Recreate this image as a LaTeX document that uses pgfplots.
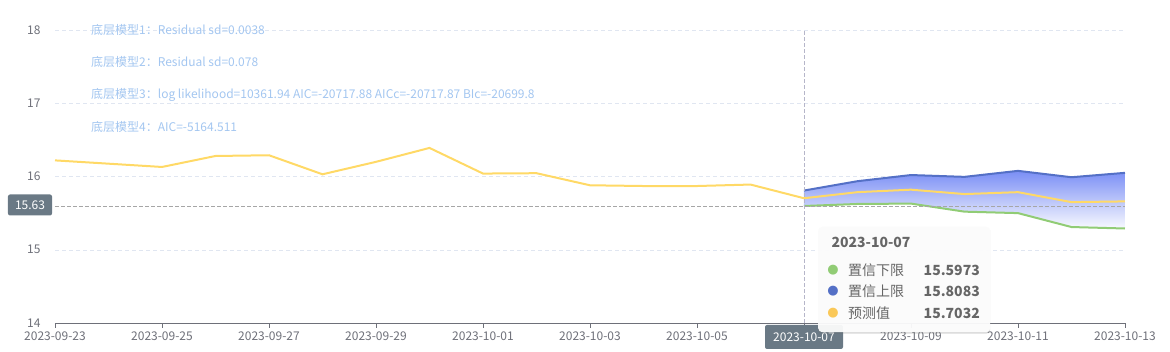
\documentclass[border=0pt]{standalone}
\usepackage{pgfplots}
\pgfplotsset{compat=1.18}
\usetikzlibrary{shadows}
\usepackage{fontspec}
\setmainfont{Noto Sans CJK SC}
\newfontfamily\dejavu{DejaVu Sans}
\definecolor{axisgray}{HTML}{6E7079}
\definecolor{gridc}{HTML}{E0E6F1}
\definecolor{yel}{HTML}{FFD966}
\definecolor{dotyel}{HTML}{FAC858}
\definecolor{blu}{HTML}{5470C6}
\definecolor{grn}{HTML}{91CC75}
\definecolor{fillblue}{HTML}{7A8EF5}
\definecolor{annot}{HTML}{A3C6F0}
\definecolor{boxc}{HTML}{6A7985}
\definecolor{txt}{HTML}{666666}
\begin{document}
\begin{tikzpicture}
\useasboundingbox (-55pt,-29pt) rectangle (1115pt,323pt);
\begin{axis}[
  at={(0,0)}, anchor=south west,
  scale only axis, width=1070pt, height=293pt,
  xmin=0, xmax=20, ymin=14, ymax=18,
  xtick={0,2,...,20},
  xticklabels={2023-09-23,2023-09-25,2023-09-27,2023-09-29,2023-10-01,2023-10-03,2023-10-05,,2023-10-09,2023-10-11,2023-10-13},
  ytick={14,15,16,17,18},
  axis x line*=bottom, axis y line*=left,
  x axis line style={draw=axisgray, -},
  y axis line style={draw=none},
  xtick style={draw=axisgray},
  ytick style={draw=none},
  tick align=outside, major tick length=5pt,
  ymajorgrids, grid style={gridc, dashed, dash pattern=on 4pt off 3pt},
  tick label style={font=\fontsize{12}{14}\selectfont, text=axisgray},
  yticklabel style={xshift=-6pt},
  /pgf/number format/assume math mode=true,
  clip=false,
]
\addplot[draw=none, top color=fillblue, bottom color=white!95!fillblue] coordinates {
 (14,15.8083) (15,15.936) (16,16.02) (17,15.995) (18,16.077) (19,15.99) (20,16.05)
 (20,15.29) (19,15.31) (18,15.50) (17,15.52) (16,15.63) (15,15.625) (14,15.5973)} -- cycle;
\addplot[blu, line width=2pt] coordinates {
 (14,15.8083) (15,15.936) (16,16.02) (17,15.995) (18,16.077) (19,15.99) (20,16.05)};
\addplot[grn, line width=2pt] coordinates {
 (14,15.5973) (15,15.625) (16,15.63) (17,15.52) (18,15.50) (19,15.31) (20,15.29)};
\addplot[yel, line width=2pt] coordinates {
 (0,16.22) (1,16.175) (2,16.13) (3,16.28) (4,16.29) (5,16.03) (6,16.20) (7,16.39)
 (8,16.04) (9,16.045) (10,15.88) (11,15.87) (12,15.87) (13,15.89) (14,15.7032)};
\addplot[yel, line width=2pt] coordinates {
 (14,15.7032) (15,15.786) (16,15.82) (17,15.76) (18,15.786) (19,15.65) (20,15.66)};
\draw[gray!70, dashed, dash pattern=on 4pt off 2pt] (axis cs:0,15.6) -- (axis cs:20,15.6);
\draw[blue!15!gray!50, dashed, dash pattern=on 4pt off 2pt] (axis cs:14,14) -- (axis cs:14,18);
\end{axis}
% annotations
\begin{scope}[every node/.style={anchor=west, text=annot, font=\fontsize{12}{14}\selectfont, inner sep=0pt}]
\node at (36pt,293pt) {底层模型1：Residual sd=0.0038};
\node at (36pt,261pt) {底层模型2：Residual sd=0.078};
\node at (36pt,228pt) {底层模型3：log likelihood=10361.94 AIC=-20717.88 AICc=-20717.87 BIc=-20699.8};
\node at (36pt,196pt) {底层模型4：AIC=-5164.511};
\end{scope}
% y pointer label
\node[fill=boxc, text=white, rounded corners=2pt, font=\fontsize{12}{14}\selectfont, minimum width=44pt, minimum height=21pt, inner sep=1pt] at (-25pt,118pt) {15.63};
% x pointer label
\node[fill=boxc, text=white, rounded corners=2pt, font=\fontsize{12}{14}\selectfont, minimum width=78pt, minimum height=24pt, inner sep=1pt] at (749pt,-14pt) {2023-10-07};
% tooltip
\node[fill=white, fill opacity=0.93, text opacity=1, rounded corners=4pt, drop shadow={opacity=0.25, shadow xshift=0pt, shadow yshift=-1.5pt, fill=black!60}, anchor=north west, minimum width=172pt, minimum height=107pt, inner sep=0pt] at (763pt,98pt) {};
\node[anchor=west, font=\fontsize{14}{16}\selectfont\bfseries, text=txt] at (773pt,81pt) {2023-10-07};
\begin{scope}[every node/.style={font=\fontsize{14}{16}\selectfont, text=txt, inner sep=0pt}]
\node[anchor=center, text=grn, font=\dejavu\fontsize{13}{14}\selectfont] at (778pt,53pt) {●};
\node[anchor=west] at (793pt,53pt) {置信下限};
\node[anchor=east, font=\fontsize{14}{16}\selectfont\bfseries] at (925pt,53pt) {15.5973};
\node[anchor=center, text=blu, font=\dejavu\fontsize{13}{14}\selectfont] at (778pt,32pt) {●};
\node[anchor=west] at (793pt,32pt) {置信上限};
\node[anchor=east, font=\fontsize{14}{16}\selectfont\bfseries] at (925pt,32pt) {15.8083};
\node[anchor=center, text=dotyel, font=\dejavu\fontsize{13}{14}\selectfont] at (778pt,10pt) {●};
\node[anchor=west] at (793pt,10pt) {预测值};
\node[anchor=east, font=\fontsize{14}{16}\selectfont\bfseries] at (925pt,10pt) {15.7032};
\end{scope}
\end{tikzpicture}
\end{document}
